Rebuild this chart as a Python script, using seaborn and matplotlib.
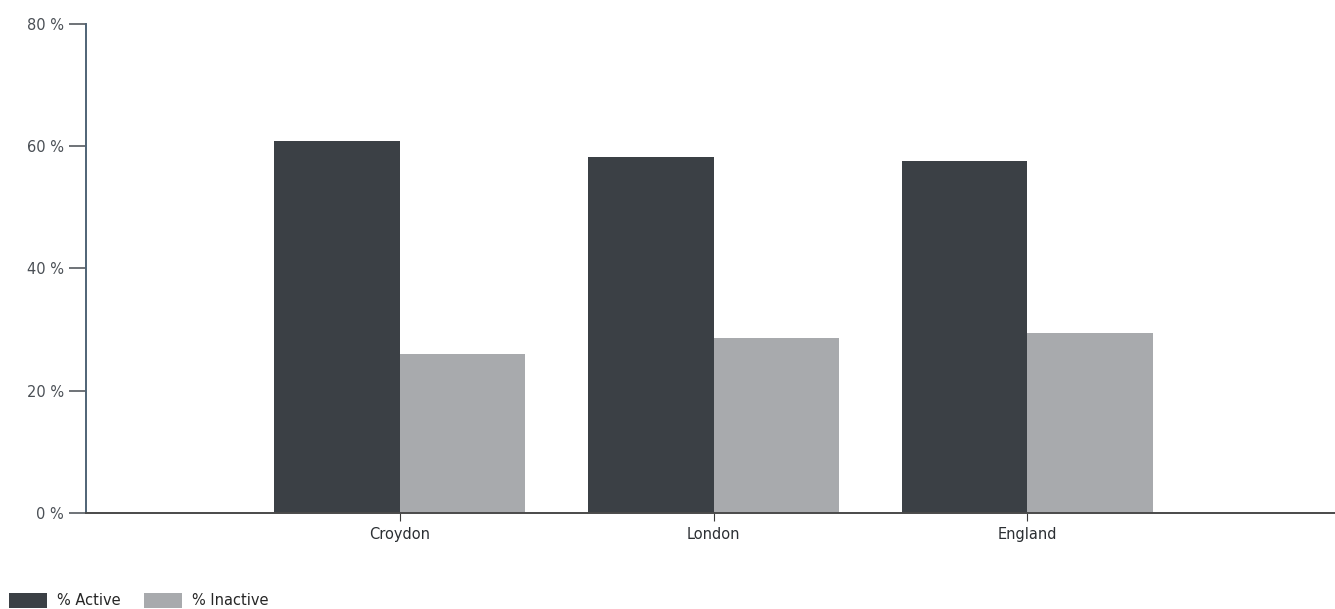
import pandas as pd
import numpy as np
import matplotlib.pyplot as plt
import seaborn as sns

# values
areas = ['Croydon', 'London', 'England']
active = [60.9, 58.3, 57.6]
inactive = [26.0, 28.6, 29.5]
series_names = ['% Active', '% Inactive']
y_ticks = [0, 20, 40, 60, 80]
y_tick_labels = ['0 %', '20 %', '40 %', '60 %', '80 %']

df = pd.DataFrame({
    'Area': areas * 2,
    'Series': [series_names[0]] * 3 + [series_names[1]] * 3,
    'Value': active + inactive,
})

sns.set_style('white')
plt.rcParams['font.family'] = ['DejaVu Sans']

fig = plt.figure(figsize=(13.35, 6.09), dpi=100)
ax = fig.add_axes([0.0644, 0.158, 0.9356, 0.8026])

sns.barplot(data=df, x='Area', y='Value', hue='Series',
            palette=['#3b4045', '#a8aaad'], width=0.8, saturation=1,
            linewidth=0, ax=ax, legend=True)

ax.set_xlim(-1, 2.98)
ax.set_ylim(0, 80)
ax.set_yticks(y_ticks)
ax.set_yticklabels(y_tick_labels, color='#4a4f55', fontsize=10.5)
ax.set_xlabel('')
ax.set_ylabel('')
ax.tick_params(axis='x', labelsize=10.5, labelcolor='#2b2f33', length=6,
               color='#3a3a3a', pad=4, bottom=True)
ax.tick_params(axis='y', length=12, width=1.2, color='#555a60', pad=4,
               left=True)

for side in ['top', 'right']:
    ax.spines[side].set_visible(False)
ax.spines['left'].set_color('#4f6375')
ax.spines['left'].set_linewidth(1.4)
ax.spines['bottom'].set_color('#4a4a4a')
ax.spines['bottom'].set_linewidth(1.4)

handles, labels = ax.get_legend_handles_labels()
ax.get_legend().remove()
fig.legend(handles, labels, loc='lower left', bbox_to_anchor=(-0.003, -0.02),
           ncol=2, frameon=False, fontsize=10.5, handlelength=2.6,
           handleheight=1.2, columnspacing=1.6, handletextpad=0.7)

fig.savefig('out.png', dpi=100)
